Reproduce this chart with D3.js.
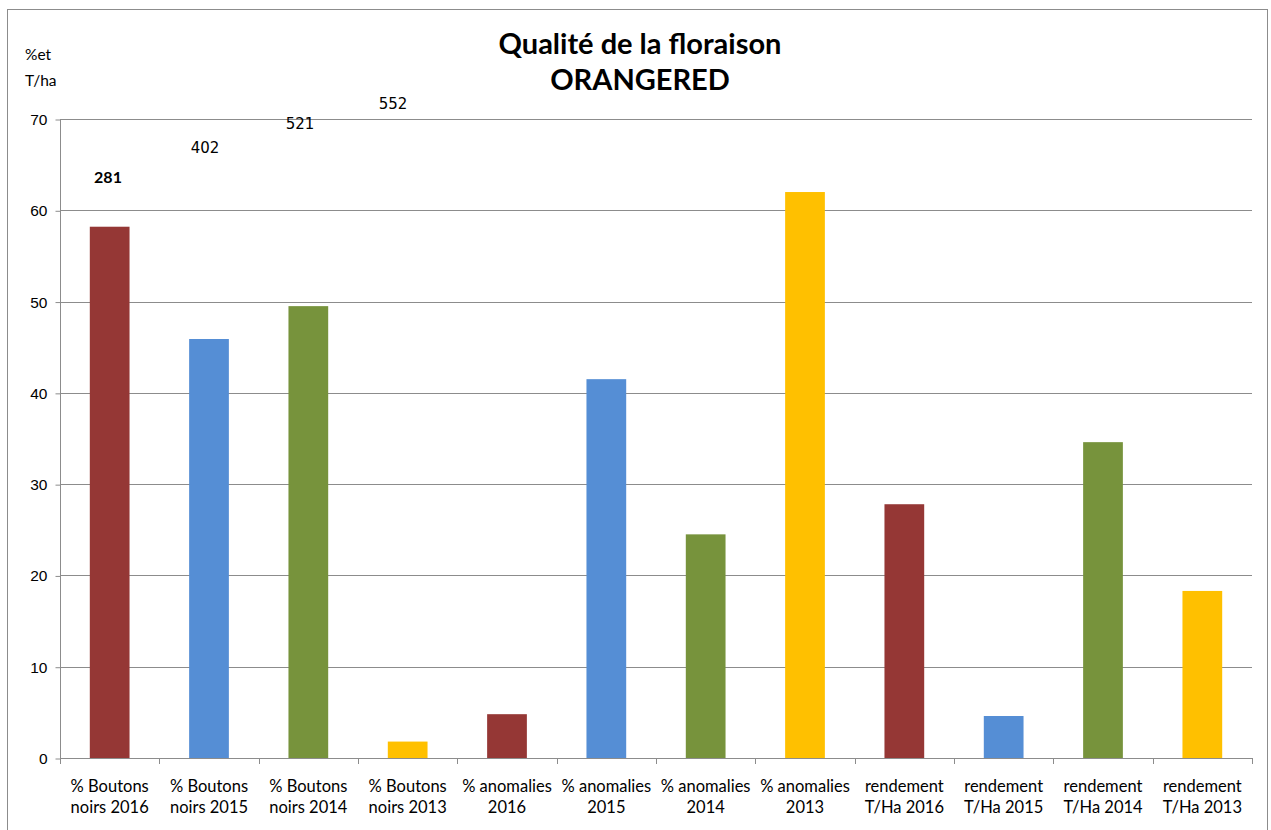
<!DOCTYPE html>
<html>
<head>
<meta charset="utf-8">
<script src="https://cdn.jsdelivr.net/npm/d3@7"></script>
<style>
  body { margin: 0; background: #fff; }
  svg { font-family: Lato, "Open Sans", sans-serif; }
</style>
</head>
<body>
<svg id="chart"></svg>
<script>
const width = 1271;
const height = 830;

// categories (two-line labels)
const categories = [
  ['% Boutons', 'noirs 2016'], ['% Boutons', 'noirs 2015'], ['% Boutons', 'noirs 2014'], ['% Boutons', 'noirs 2013'],
  ['% anomalies', '2016'], ['% anomalies', '2015'], ['% anomalies', '2014'], ['% anomalies', '2013'],
  ['rendement', 'T/Ha 2016'], ['rendement', 'T/Ha 2015'], ['rendement', 'T/Ha 2014'], ['rendement', 'T/Ha 2013']
];
const values = [58.2, 45.9, 49.5, 1.8, 4.8, 41.5, 24.5, 62.0, 27.8, 4.6, 34.6, 18.3];
const years = [2016, 2015, 2014, 2013, 2016, 2015, 2014, 2013, 2016, 2015, 2014, 2013];
const yearColors = { 2016: '#953735', 2015: '#558ed5', 2014: '#77933c', 2013: '#ffc000' };
const yTicks = [0, 10, 20, 30, 40, 50, 60, 70];

// counts written above the first group
const counts = ['281', '402', '521', '552'];
const countLevels = [63, 66.3, 68.9, 71.1];

const margin = { top: 119, right: 19, bottom: 72, left: 60 };

const svg = d3.select('#chart')
  .attr('width', width)
  .attr('height', height);

// outer frame
svg.append('rect')
  .attr('x', 7.5).attr('y', 9.5)
  .attr('width', 1260).attr('height', 830)
  .attr('fill', 'none')
  .attr('stroke', '#8c8c8c');

const x = d3.scaleBand()
  .domain(d3.range(categories.length))
  .range([margin.left, width - margin.right])
  .paddingInner(0.6)
  .paddingOuter(0.3);

const y = d3.scaleLinear()
  .domain([0, 70])
  .range([height - margin.bottom, margin.top]);

// gridlines
svg.append('g')
  .selectAll('line')
  .data(yTicks.filter(d => d > 0))
  .enter()
  .append('line')
  .attr('x1', margin.left)
  .attr('x2', width - margin.right)
  .attr('y1', d => Math.round(y(d)) + 0.5)
  .attr('y2', d => Math.round(y(d)) + 0.5)
  .attr('stroke', '#8c8c8c');

// bars
svg.append('g')
  .selectAll('rect')
  .data(values)
  .enter()
  .append('rect')
  .attr('x', (d, i) => x(i))
  .attr('width', x.bandwidth())
  .attr('y', d => y(d))
  .attr('height', d => y(0) - y(d))
  .attr('fill', (d, i) => yearColors[years[i]]);

// y axis
const yAxis = d3.axisLeft(y)
  .tickValues(yTicks)
  .tickSize(5)
  .tickPadding(8)
  .tickFormat(d3.format('d'));

const gy = svg.append('g')
  .attr('transform', `translate(${margin.left + 0.5},0.5)`)
  .call(yAxis);
gy.selectAll('path, line').attr('stroke', '#8c8c8c');
gy.selectAll('text').attr('font-size', 15.5).attr('fill', '#000');
gy.select('.domain').attr('d', `M0,${y(70)}V${y(0)}`);

// x axis line and ticks at category boundaries
const step = x.step();
const boundaries = d3.range(categories.length + 1).map(i => margin.left + i * step);
const gx = svg.append('g');
gx.append('line')
  .attr('x1', margin.left).attr('x2', width - margin.right)
  .attr('y1', Math.round(y(0)) + 0.5).attr('y2', Math.round(y(0)) + 0.5)
  .attr('stroke', '#8c8c8c');
gx.selectAll('.tick')
  .data(boundaries)
  .enter()
  .append('line')
  .attr('x1', d => Math.round(d) + 0.5).attr('x2', d => Math.round(d) + 0.5)
  .attr('y1', Math.round(y(0))).attr('y2', Math.round(y(0)) + 6)
  .attr('stroke', '#8c8c8c');

// category labels
const labels = svg.append('g')
  .selectAll('text')
  .data(categories)
  .enter()
  .append('text')
  .attr('text-anchor', 'middle')
  .attr('font-size', 16.5)
  .attr('fill', '#000')
  .attr('transform', (d, i) => `translate(${x(i) + x.bandwidth() / 2},${y(0) + 34})`);
labels.append('tspan').attr('x', 0).attr('dy', 0).text(d => d[0]);
labels.append('tspan').attr('x', 0).attr('dy', 21).text(d => d[1]);

// counts above
svg.append('g')
  .selectAll('text')
  .data(counts)
  .enter()
  .append('text')
  .attr('x', (d, i) => [108, 205, 300, 393][i])
  .attr('y', (d, i) => y(countLevels[i]))
  .attr('text-anchor', 'middle')
  .attr('font-weight', (d, i) => i === 0 ? 'bold' : 'normal')
  .attr('font-family', (d, i) => i === 0 ? null : '"DejaVu Sans", sans-serif')
  .attr('font-size', (d, i) => i === 0 ? 16 : 15)
  .attr('fill', '#000')
  .text(d => d);

// axis unit label
svg.append('text').attr('x', 25).attr('y', 60).attr('font-size', 15.5).text('%et');
svg.append('text').attr('x', 25).attr('y', 86).attr('font-size', 15.5).text('T/ha');

// title
svg.append('text')
  .attr('x', 640).attr('y', 54)
  .attr('text-anchor', 'middle')
  .attr('font-size', 29).attr('font-weight', 'bold')
  .text('Qualité de la floraison');
svg.append('text')
  .attr('x', 640).attr('y', 90)
  .attr('text-anchor', 'middle')
  .attr('font-size', 29).attr('font-weight', 'bold')
  .text('ORANGERED');
</script>
</body>
</html>
